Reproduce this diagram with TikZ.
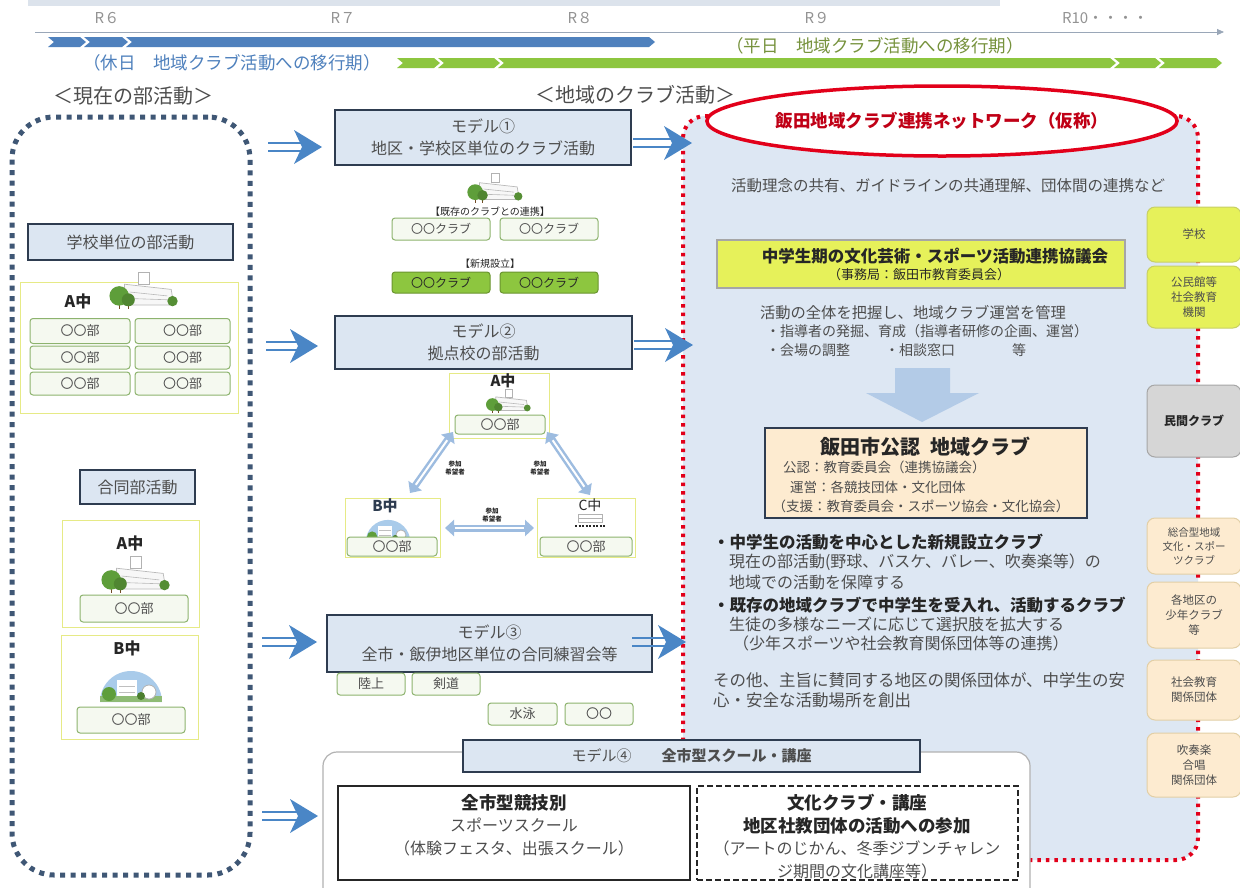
\documentclass[tikz,border=0pt]{standalone}
\usepackage{fontspec}
\setmainfont{Noto Sans CJK JP}
\usetikzlibrary{shapes.geometric,arrows.meta,calc}

\newcommand\fsz[2]{\fontsize{#1pt}{#2pt}\selectfont}

\definecolor{txt}{HTML}{4D4D4D}
\definecolor{dark}{HTML}{262626}
\definecolor{topstrip}{HTML}{DCE3EC}
\definecolor{axisgray}{HTML}{9AA7B8}
\definecolor{chevblue}{HTML}{4F81BD}
\definecolor{chevgreen}{HTML}{8DC63F}
\definecolor{holtext}{HTML}{4F81BD}
\definecolor{wktext}{HTML}{76923C}
\definecolor{frameblue}{HTML}{3F5775}
\definecolor{boxblue}{HTML}{DCE6F2}
\definecolor{edgeblue}{HTML}{2E3C50}
\definecolor{grpyellow}{HTML}{E6EA86}
\definecolor{clubedge}{HTML}{8DB36E}
\definecolor{clubfill}{HTML}{F5F9F0}
\definecolor{clubgreen}{HTML}{8DC63F}
\definecolor{arrowblue}{HTML}{4A86C6}
\definecolor{lightarrow}{HTML}{9DBCE0}
\definecolor{netred}{HTML}{E2001A}
\definecolor{panel}{HTML}{DDE7F3}
\definecolor{council}{HTML}{E6F15A}
\definecolor{beige}{HTML}{FDEBD0}
\definecolor{beigeedge}{HTML}{E2CFA6}
\definecolor{grayclub}{HTML}{D6D6D6}
\definecolor{downarrow}{HTML}{B3CBE7}
\definecolor{treegreen}{HTML}{5E9E3A}
\definecolor{domeblue}{HTML}{A9CBEA}

% wide blue arrow made of two bars and a notched head
\newcommand\fatarrow[2]{%
  \draw[arrowblue, line width=2.6pt] ($(#1)+(0,-4)$) -- ($(#2)+(-20,-4)$)
                                     ($(#1)+(0,4)$) -- ($(#2)+(-20,4)$);
  \fill[arrowblue] (#2) -- ($(#2)+(-28,-17)$) -- ($(#2)+(-20,0)$) -- ($(#2)+(-28,17)$) -- cycle;}

% one segment of a chevron band
\newcommand\chev[4]{\fill[#4] (#1,#3-5) -- (#2,#3-5) -- (#2+6,#3) -- (#2,#3+5) -- (#1,#3+5) -- (#1+6,#3) -- cycle;}

\tikzset{
  mbox/.style={draw=edgeblue, line width=2.4pt, fill=boxblue, align=center, text=txt, font=\fsz{16}{22}},
  grp/.style={draw=grpyellow, line width=0.9pt, fill=white},
  club/.style={draw=clubedge, line width=1pt, rounded corners=3pt, fill=clubfill, text=txt, font=\fsz{13}{13}},
  gclub/.style={club, fill=clubgreen, draw=clubgreen!75!black, text=dark},
  chip/.style={club, minimum width=68, minimum height=22, font=\fsz{13}{13}},
  schoollab/.style={font=\bfseries\fsz{15}{15}, text=dark},
  tinylab/.style={font=\bfseries\fsz{6.5}{8.5}, align=center, text=dark},
  biarrow/.style={lightarrow, line width=7pt, {Triangle[length=9pt,width=16pt]}-{Triangle[length=9pt,width=16pt]}},
  bicore/.style={white, line width=2pt, shorten <=10pt, shorten >=10pt},
  rbox/.style={rounded corners=8pt, line width=1pt, align=center, minimum width=94, font=\fsz{11.5}{15}, text=txt},
  body/.style={anchor=west, font=\fsz{15.5}{15.5}, text=txt},
  schoolpic/.pic={
    \draw[gray!60, fill=white, line width=0.5pt] (-1,-15) rectangle (7,-6);
    \draw[gray!55, fill=gray!6, line width=0.7pt] (-12,-6) -- (24,-2) -- (26,10) -- (-12,10) -- cycle;
    \draw[gray!55, line width=0.6pt] (-8,0) -- (21,3) (-8,5) -- (22,6);
    \draw[brown!60!black, line width=1pt] (-16,8) -- (-16,13) (-9,9) -- (-9,13);
    \fill[treegreen] (-16,3) circle (7.5);
    \fill[treegreen!85!black] (-9,6) circle (5);
    \fill[treegreen!90!black] (25,7) circle (4);
  },
  domepic/.pic={
    \fill[domeblue] (-31,10) arc[start angle=180,end angle=360,radius=31] -- cycle;
    \fill[white] (-14,-12) rectangle (6,6);
    \draw[gray!50, line width=0.5pt] (-12,-6) -- (4,-6) (-12,0) -- (4,0);
    \fill[treegreen!70] (-31,4) rectangle (31,10);
    \fill[treegreen] (-22,2) circle (7);
    \draw[gray!60, fill=white, line width=0.8pt] (18,0) circle (7);
    \fill[treegreen!80!black] (10,4) circle (4);
  },
  smallschool/.pic={
    \draw[gray!60, line width=0.6pt] (-12,-6) rectangle (12,2);
    \draw[gray!60, line width=0.5pt] (-12,-2) -- (12,-2);
    \draw[dark, line width=1.4pt, dash pattern=on 2pt off 1.5pt] (-15,6) -- (15,6);
  },
}

\begin{document}
\begin{tikzpicture}[x=1pt,y=-1pt, every node/.style={inner sep=0pt, outer sep=0pt, text=txt}]
\useasboundingbox (0,0) rectangle (1240,887);
\fill[white] (0,0) rectangle (1240,887);
\fill[topstrip] (28,0) rectangle (1000,6);

% ---------- time line ----------
\coordinate (ax0) at (35,32);
\coordinate (ax1) at (1224,32);
\draw[axisgray, line width=0.8pt, -{Triangle[length=7pt,width=6pt]}] (ax0) -- (ax1);
\foreach \nm/\x/\t in {r6/107/R６, r7/343/R７, r8/580/R８, r9/817/R９}
  \node[font=\fsz{15}{15}, text=gray!85] (\nm) at (\x,18) {\t};
\node[font=\fsz{15}{15}, text=gray!85, anchor=west] (r10) at (1062,18) {R10・・・・};

\chev{48}{80}{42}{chevblue}
\chev{84}{122}{42}{chevblue}
\chev{126}{649}{42}{chevblue}
\chev{397}{434}{63}{chevgreen}
\chev{438}{494}{63}{chevgreen}
\chev{498}{1110}{63}{chevgreen}
\chev{1114}{1155}{63}{chevgreen}
\chev{1159}{1216}{63}{chevgreen}

\node[font=\fsz{17.5}{17.5}, text=holtext] (hol) at (232,63) {（休日　地域クラブ活動への移行期）};
\node[font=\fsz{17.5}{17.5}, text=wktext] (wk) at (875,46) {（平日　地域クラブ活動への移行期）};

\node[font=\fsz{20}{20}] (curh) at (133,96) {＜現在の部活動＞};
\node[font=\fsz{20}{20}] (regh) at (635,95) {＜地域のクラブ活動＞};

% ---------- current club activities ----------
\node[draw=frameblue, line width=5pt, dash pattern=on 5pt off 5.5pt, rounded corners=42pt,
      minimum width=238, minimum height=758] (curframe) at (131,496) {};

\node[mbox, minimum width=205, minimum height=36] (schoolunit) at (130.5,242) {学校単位の部活動};
\node[grp, minimum width=218, minimum height=131] (agrp) at (129,347.5) {};
\node[schoollab, font=\bfseries\fsz{16}{16}] (alab) at (78,301) {A中};
\pic[scale=1.3] at (140,292) {schoolpic};
\node[club, minimum width=100, minimum height=25] (c11) at (80,331) {〇〇部};
\node[club, minimum width=100, minimum height=23] (c12) at (80,357.5) {〇〇部};
\node[club, minimum width=100, minimum height=23] (c13) at (80,383.5) {〇〇部};
\node[club, minimum width=95, minimum height=25] (c21) at (182.5,331) {〇〇部};
\node[club, minimum width=95, minimum height=23] (c22) at (182.5,357.5) {〇〇部};
\node[club, minimum width=95, minimum height=23] (c23) at (182.5,383.5) {〇〇部};

\node[mbox, minimum width=115, minimum height=34] (joint) at (137.5,487) {合同部活動};
\node[grp, minimum width=137, minimum height=107] (jagrp) at (130.5,573.5) {};
\node[schoollab, font=\bfseries\fsz{16}{16}] (jalab) at (130,543) {A中};
\pic[scale=1.3] at (132,576) {schoolpic};
\node[club, minimum width=108, minimum height=27] (jaclub) at (134,608.5) {〇〇部};
\node[grp, minimum width=137, minimum height=104] (jbgrp) at (129.5,687) {};
\node[schoollab, font=\bfseries\fsz{16}{16}] (jblab) at (127,648) {B中};
\pic at (131,692) {domepic};
\node[club, minimum width=108, minimum height=26] (jbclub) at (131,720) {〇〇部};

% ---------- network panel ----------
\node[draw=netred, line width=4pt, dash pattern=on 3.5pt off 5pt, fill=panel, rounded corners=22pt,
      minimum width=515, minimum height=744] (panel) at (940.5,488) {};
\node[ellipse, draw=netred, line width=3.5pt, fill=white, minimum width=430, minimum height=70,
      font=\bfseries\fsz{17.5}{17.5}, text=netred!85!black] (net) at (942,121) {飯田地域クラブ連携ネットワーク（仮称）};
\node[font=\fsz{15.5}{15.5}] (share) at (948,186) {活動理念の共有、ガイドラインの共通理解、団体間の連携など};

\node[draw=gray!70, line width=1.5pt, fill=council, minimum width=408, minimum height=48] (council) at (921,264) {};
\node[font=\bfseries\fsz{16.5}{16.5}, text=dark] (counciltitle) at (935,256) {中学生期の文化芸術・スポーツ活動連携協議会};
\node[font=\fsz{13}{13}, text=dark] (councilsub) at (919,275) {（事務局：飯田市教育委員会）};

\node[body, font=\fsz{15.3}{15.3}] (mg1) at (760,313) {活動の全体を把握し、地域クラブ運営を管理};
\node[body, font=\fsz{14}{14}] (mg2) at (766,331) {・指導者の発掘、育成（指導者研修の企画、運営）};
\node[body, font=\fsz{14}{14}] (mg3) at (766,350) {・会場の調整};
\node[body, font=\fsz{14}{14}] (mg4) at (885,350) {・相談窓口};
\node[body, font=\fsz{14}{14}] (mg5) at (1012,350) {等};

\fill[downarrow] (895,368) -- (950,368) -- (950,393) -- (979,393) -- (922,422) -- (866,393) -- (895,393) -- cycle;

\node[draw=edgeblue, line width=2.4pt, fill=beige, minimum width=322, minimum height=90] (cclub) at (926,473) {};
\node[font=\bfseries\fsz{20}{20}, text=dark] (cctitle) at (925,447) {飯田市公認\hspace{0.5em}地域クラブ};
\node[body, font=\fsz{13.5}{13.5}] (cc1) at (783,467) {公認：教育委員会（連携協議会）};
\node[body, font=\fsz{13.5}{13.5}] (cc2) at (790,487) {運営：各競技団体・文化団体};
\node[font=\fsz{13.5}{13.5}] (cc3) at (921,506) {（支援：教育委員会・スポーツ協会・文化協会）};

\node[body, font=\bfseries\fsz{16.5}{16.5}, text=dark] (b1) at (713,542) {・中学生の活動を中心とした新規設立クラブ};
\node[body, font=\fsz{16}{16}] (b1a) at (729,562) {現在の部活動(野球、バスケ、バレー、吹奏楽等）の};
\node[body, font=\fsz{16}{16}] (b1b) at (729,582) {地域での活動を保障する};
\node[body, font=\bfseries\fsz{16.5}{16.5}, text=dark] (b2) at (713,605) {・既存の地域クラブで中学生を受入れ、活動するクラブ};
\node[body, font=\fsz{16}{16}] (b2a) at (729,624) {生徒の多様なニーズに応じて選択肢を拡大する};
\node[body, font=\fsz{16}{16}] (b2b) at (733,643) {（少年スポーツや社会教育関係団体等の連携）};
\node[body, font=\fsz{16.5}{16.5}] (o1) at (713,680) {その他、主旨に賛同する地区の関係団体が、中学生の安};
\node[body, font=\fsz{16.5}{16.5}] (o2) at (713,700) {心・安全な活動場所を創出};

\node[rbox, fill=council, draw=council!70!gray, minimum height=55] (rs1) at (1194,234.5) {学校};
\node[rbox, fill=council, draw=council!70!gray, minimum height=62] (rs2) at (1194,297) {公民館等\\社会教育\\機関};
\node[rbox, fill=grayclub, draw=gray!70, minimum height=72, font=\bfseries\fsz{12}{15}, text=dark] (rs3) at (1194,421) {民間クラブ};
\node[rbox, fill=beige, draw=beigeedge, minimum height=56, font=\fsz{10.5}{14}] (rs4) at (1194,546) {総合型地域\\文化・スポー\\ツクラブ};
\node[rbox, fill=beige, draw=beigeedge, minimum height=66] (rs5) at (1194,615) {各地区の\\少年クラブ\\等};
\node[rbox, fill=beige, draw=beigeedge, minimum height=60] (rs6) at (1194,690) {社会教育\\関係団体};
\node[rbox, fill=beige, draw=beigeedge, minimum height=64] (rs7) at (1194,765) {吹奏楽\\合唱\\関係団体};

% ---------- model 1 ----------
\node[mbox, minimum width=296, minimum height=55] (m1) at (483,137.5) {モデル①\\地区・学校区単位のクラブ活動};
\pic[scale=1.05] at (492,189) {schoolpic};
\node[font=\fsz{10}{10}, text=dark] (exist) at (490,212) {【既存のクラブとの連携】};
\node[club, minimum width=98, minimum height=22, font=\fsz{12}{12}] (k1) at (441,229) {〇〇クラブ};
\node[club, minimum width=98, minimum height=22, font=\fsz{12}{12}] (k2) at (549,229) {〇〇クラブ};
\node[font=\fsz{10}{10}, text=dark] (newl) at (490,264) {【新規設立】};
\node[gclub, minimum width=98, minimum height=21, font=\fsz{12}{12}] (n1) at (441,282.5) {〇〇クラブ};
\node[gclub, minimum width=98, minimum height=21, font=\fsz{12}{12}] (n2) at (549,282.5) {〇〇クラブ};

% ---------- model 2 ----------
\node[mbox, minimum width=297, minimum height=53] (m2) at (483.5,342.5) {モデル②\\拠点校の部活動};
\node[grp, minimum width=100, minimum height=65] (pa) at (499,405.5) {};
\pic[scale=0.85] at (506,402) {schoolpic};
\node[schoollab] (palab) at (503,381) {A中};
\node[club, minimum width=90, minimum height=19] (paclub) at (500,424.5) {〇〇部};

\node[grp, minimum width=95, minimum height=59] (pb) at (392.5,527.5) {};
\pic[scale=0.72] at (388,535) {domepic};
\node[schoollab, text=edgeblue] (pblab) at (385,506) {B中};
\node[club, minimum width=90, minimum height=19] (pbclub) at (392,546.5) {〇〇部};

\node[grp, minimum width=98, minimum height=59] (pc) at (586,527.5) {};
\node[font=\fsz{14}{14}, text=dark] (pclab) at (590,505) {C中};
\pic at (590,520) {smallschool};
\node[club, minimum width=92, minimum height=19] (pcclub) at (586,546.5) {〇〇部};

\coordinate (abB) at (410,493); \coordinate (abA) at (453,432);
\coordinate (acA) at (547,432); \coordinate (acC) at (590,495);
\coordinate (bcB) at (445,528); \coordinate (bcC) at (534,528);
\draw[biarrow] (abB) -- (abA);  \draw[bicore] (abB) -- (abA);
\draw[biarrow] (acA) -- (acC);  \draw[bicore] (acA) -- (acC);
\draw[biarrow] (bcB) -- (bcC);  \draw[bicore] (bcB) -- (bcC);
\node[tinylab] (lab1) at (455,468) {参加\\希望者};
\node[tinylab] (lab2) at (540,468) {参加\\希望者};
\node[tinylab] (lab3) at (492,515) {参加\\希望者};

% ---------- model 3 ----------
\node[mbox, minimum width=325, minimum height=57] (m3) at (489.5,643.5) {モデル③\\全市・飯伊地区単位の合同練習会等};
\node[chip] (s1) at (371,684) {陸上};
\node[chip] (s2) at (446,684) {剣道};
\node[chip, minimum width=69] (s3) at (522.5,714) {水泳};
\node[chip] (s4) at (599,714) {〇〇};

% ---------- model 4 ----------
\node[draw=gray!60, line width=1.2pt, fill=white, rounded corners=14pt, minimum width=707, minimum height=150] (m4frame) at (676.5,827) {};
\node[mbox, minimum width=457, minimum height=32, font=\fsz{15}{15}] (m4) at (691.5,756) {モデル④\hspace{2em}\textbf{全市型スクール・講座}};
\node[draw=dark, line width=1.5pt, fill=white, minimum width=352, minimum height=94] (m4a) at (514,833) {};
\node[align=center, font=\fsz{16}{22.5}] (m4atext) at (514,825) {{\bfseries\fsz{17.5}{22.5}\color{dark}全市型競技別}\\スポーツスクール\\（体験フェスタ、出張スクール）};
\node[draw=dark, dash pattern=on 6pt off 3pt, line width=1.5pt, fill=white, minimum width=321, minimum height=94] (m4b) at (857.5,833) {};
\node[align=center, font=\fsz{16}{22.5}] (m4btext) at (857,836.5) {{\bfseries\fsz{17.5}{22.5}\color{dark}文化クラブ・講座}\\{\bfseries\fsz{17.5}{22.5}\color{dark}地区社教団体の活動への参加}\\（アートのじかん、冬季ジブンチャレン\\ジ期間の文化講座等）};

% ---------- arrows ----------
\coordinate (la1) at (268,147); \coordinate (lb1) at (322,147);
\coordinate (la2) at (266,346); \coordinate (lb2) at (318,346);
\coordinate (la3) at (262,642); \coordinate (lb3) at (317,642);
\coordinate (la4) at (262,816); \coordinate (lb4) at (318,816);
\fatarrow{la1}{lb1}
\fatarrow{la2}{lb2}
\fatarrow{la3}{lb3}
\fatarrow{la4}{lb4}
\coordinate (ma1) at (633,143); \coordinate (mb1) at (692,143);
\coordinate (ma2) at (634,345); \coordinate (mb2) at (693,345);
\coordinate (ma3) at (632,642); \coordinate (mb3) at (686,642);
\fatarrow{ma1}{mb1}
\fatarrow{ma2}{mb2}
\fatarrow{ma3}{mb3}
\end{tikzpicture}
\end{document}
